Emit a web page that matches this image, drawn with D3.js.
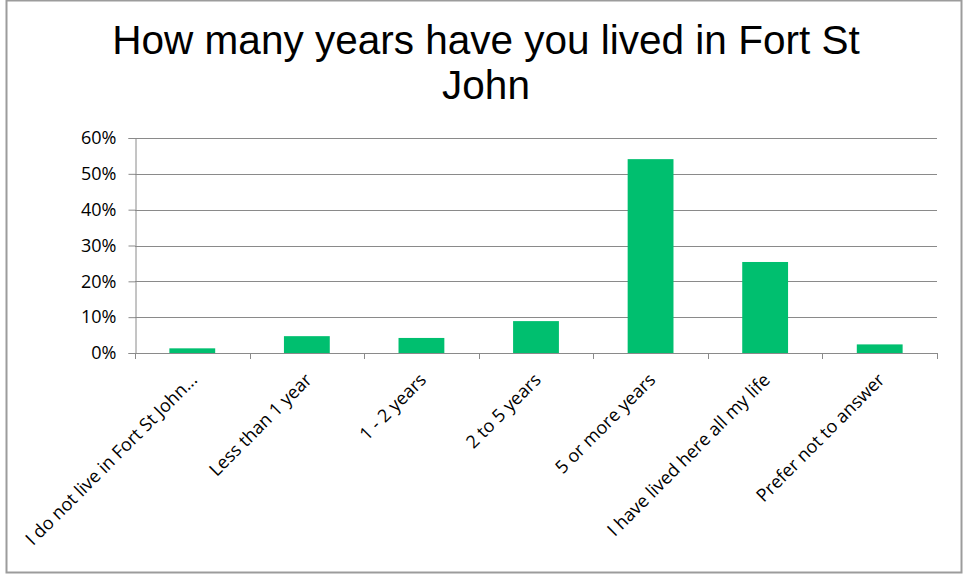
<!DOCTYPE html>
<html>
<head>
<meta charset="utf-8">
<script src="https://cdn.jsdelivr.net/npm/d3@7"></script>
<style>
  body { margin: 0; background: #fff; }
  svg { display: block; }
</style>
</head>
<body>
<svg id="chart" width="964" height="575"></svg>
<script>
// 資料
const categories = [
    'I do not live in Fort St John...',
    'Less than 1 year',
    '1 - 2 years',
    '2 to 5 years',
    '5 or more years',
    'I have lived here all my life',
    'Prefer not to answer'
];
const values = [0.013, 0.047, 0.042, 0.089, 0.541, 0.254, 0.024];
const yTicks = [0, 0.1, 0.2, 0.3, 0.4, 0.5, 0.6];
const titleLines = ['How many years have you lived in Fort St', 'John'];

const svg = d3.select('#chart');

// 外框
svg.append('rect')
    .attr('x', 6.5)
    .attr('y', 0.5)
    .attr('width', 955)
    .attr('height', 572)
    .attr('fill', '#fff')
    .attr('stroke', '#9c9c9c')
    .attr('stroke-width', 2);

// 標題
svg.append('text')
    .attr('text-anchor', 'middle')
    .style('font-family', '"Liberation Sans", Arial, sans-serif')
    .style('font-size', '40.5px')
    .attr('fill', '#000')
    .selectAll('tspan')
    .data(titleLines)
    .join('tspan')
    .attr('x', 486)
    .attr('y', (d, i) => 54 + i * 45)
    .text(d => d);

const margin = { left: 135, right: 937, top: 138, bottom: 353 };

const x = d3.scaleBand()
    .domain(categories)
    .range([margin.left, margin.right])
    .paddingInner(0.6)
    .paddingOuter(0.3);

const y = d3.scaleLinear()
    .domain([0, 0.6])
    .range([margin.bottom, margin.top]);

const gridColor = '#8a8a8a';

// 格線
svg.append('g')
    .selectAll('line')
    .data(yTicks.filter(d => d > 0))
    .join('line')
    .attr('x1', margin.left)
    .attr('x2', margin.right)
    .attr('y1', d => Math.round(y(d)) + 0.5)
    .attr('y2', d => Math.round(y(d)) + 0.5)
    .attr('stroke', gridColor)
    .attr('stroke-width', 1);

// 長條
svg.append('g')
    .selectAll('rect')
    .data(values)
    .join('rect')
    .attr('x', (d, i) => x(categories[i]))
    .attr('y', d => y(d))
    .attr('width', x.bandwidth())
    .attr('height', d => y(0) - y(d))
    .attr('fill', '#00bf6f');

// Y 軸
const yAxis = svg.append('g')
    .attr('transform', `translate(${margin.left + 0.5},0)`)
    .call(d3.axisLeft(y).tickValues(yTicks).tickFormat(d3.format('.0%')).tickSize(7).tickPadding(12));

yAxis.select('.domain').attr('stroke', gridColor);
yAxis.selectAll('.tick line').attr('stroke', gridColor);
yAxis.selectAll('.tick text')
    .style('font-family', '"Open Sans", sans-serif')
    .style('font-size', '18px')
    .attr('fill', '#000');

// X 軸
const step = x.step();
const boundaries = d3.range(categories.length + 1).map(i => margin.left + i * step);

svg.append('line')
    .attr('x1', margin.left)
    .attr('x2', margin.right)
    .attr('y1', margin.bottom + 0.5)
    .attr('y2', margin.bottom + 0.5)
    .attr('stroke', gridColor);

svg.append('g')
    .selectAll('line')
    .data(boundaries)
    .join('line')
    .attr('x1', d => Math.round(d) + 0.5)
    .attr('x2', d => Math.round(d) + 0.5)
    .attr('y1', margin.bottom)
    .attr('y2', margin.bottom + 6)
    .attr('stroke', gridColor);

svg.append('g')
    .selectAll('text')
    .data(categories)
    .join('text')
    .attr('transform', d => `translate(${x(d) + x.bandwidth() / 2 + 6},${margin.bottom + 28}) rotate(-45)`)
    .attr('text-anchor', 'end')
    .style('font-family', '"Open Sans", sans-serif')
    .style('font-size', '18px')
    .attr('fill', '#000')
    .text(d => d);
</script>
</body>
</html>
